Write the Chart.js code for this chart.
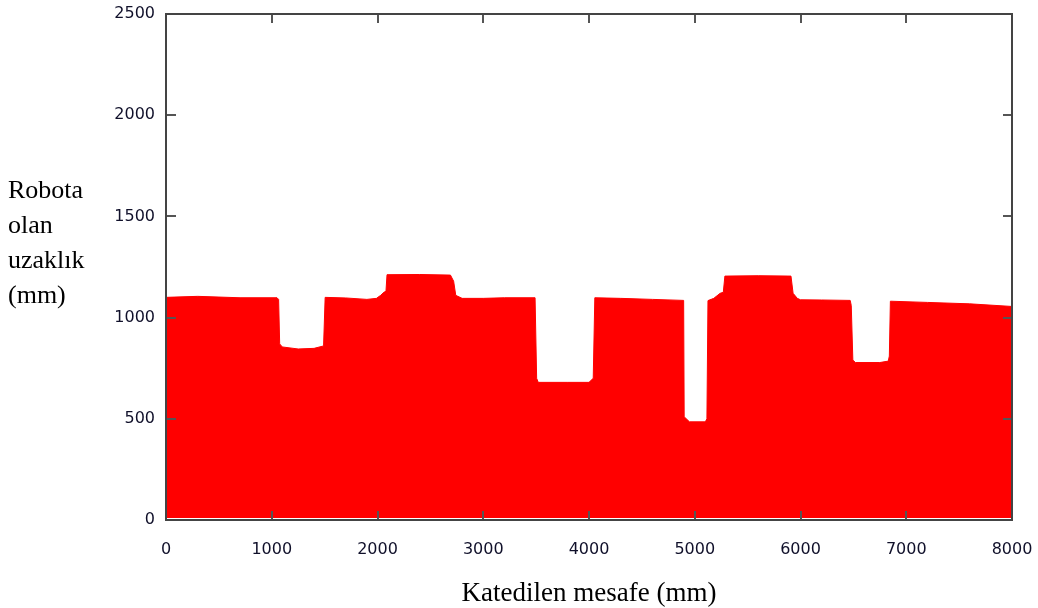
<!DOCTYPE html>
<html>
<head>
<meta charset="utf-8">
<script src="https://cdn.jsdelivr.net/npm/chart.js@4"></script>
<style>
	html, body { margin: 0; padding: 0; background: #ffffff; }
	#wrap { width: 1038px; height: 608px; position: relative; }
</style>
</head>
<body>
<div id="wrap"><canvas id="distance-chart"></canvas></div>
<script>
// VARIABLES ================================================

// travelled distance (mm) and distance to robot (mm)
const distX = [
	0, 300, 700, 1050, 1065, 1075, 1100, 1250, 1400, 1490, 1505, 1700, 1900, 1990, 2030, 2060, 2080, 2090, 2400, 2690,
	2720, 2740, 2800, 3000, 3200, 3490, 3505, 3520, 3800, 4000, 4040, 4055, 4300, 4600, 4895, 4900, 4950, 5100, 5115, 5125,
	5180, 5240, 5270, 5285, 5600, 5910, 5930, 5970, 6000, 6200, 6470, 6480, 6495, 6520, 6750, 6830, 6840, 6850, 7200, 7600, 8000,
];
const distY = [
	1100, 1105, 1098, 1098, 1090, 870, 855, 845, 848, 860, 1100, 1097, 1090, 1095, 1110, 1125, 1130, 1212, 1213, 1210,
	1180, 1110, 1095, 1095, 1098, 1098, 700, 680, 680, 680, 700, 1098, 1095, 1090, 1085, 510, 485, 485, 500, 1084,
	1095, 1120, 1125, 1205, 1207, 1205, 1120, 1095, 1088, 1087, 1085, 1060, 790, 778, 778, 785, 810, 1081, 1075, 1068, 1055,
];
const xTicks = { min: 0, max: 8000, step: 1000 };
const yTicks = { min: 0, max: 2500, step: 500 };
const xTitle = "Katedilen mesafe (mm)";
const yTitle = ["Robota", "olan", "uzaklık", "(mm)"];

let graph = {
	initialise: undefined,
	framePlugin: undefined,
	chart: undefined,
};

// FUNCTIONS ================================================

graph.framePlugin = {
	id: "frame",
	afterDraw: function (chart) {
		const ctx = chart.ctx;
		const area = chart.chartArea;
		const xs = chart.scales.x;
		const ys = chart.scales.y;
		ctx.save();
		// inward ticks on all four sides
		ctx.strokeStyle = "#555555";
		ctx.lineWidth = 2;
		ctx.beginPath();
		xs.ticks.forEach(function (t) {
			if (t.value <= xTicks.min || t.value >= xTicks.max) return;
			const px = Math.round(xs.getPixelForValue(t.value));
			ctx.moveTo(px, area.bottom);
			ctx.lineTo(px, area.bottom - 9);
			ctx.moveTo(px, area.top);
			ctx.lineTo(px, area.top + 9);
		});
		ys.ticks.forEach(function (t) {
			if (t.value <= yTicks.min || t.value >= yTicks.max) return;
			const py = Math.round(ys.getPixelForValue(t.value));
			ctx.moveTo(area.left, py);
			ctx.lineTo(area.left + 10, py);
			ctx.moveTo(area.right, py);
			ctx.lineTo(area.right - 9, py);
		});
		ctx.stroke();
		ctx.strokeStyle = "#444444";
		ctx.strokeRect(area.left, area.top, area.right - area.left, area.bottom - area.top);
		// axis titles
		ctx.fillStyle = "#000000";
		ctx.textBaseline = "alphabetic";
		ctx.font = '27px "Liberation Serif", "Times New Roman", serif';
		ctx.textAlign = "center";
		ctx.fillText(xTitle, (area.left + area.right) / 2, 601);
		ctx.font = '26px "Liberation Serif", "Times New Roman", serif';
		ctx.textAlign = "left";
		for (let i = 0; i < yTitle.length; i++) {
			ctx.fillText(yTitle[i], 8, 198 + i * 35);
		}
		ctx.restore();
	},
};

graph.initialise = function () {
	let points = [];
	for (let i = 0; i < distX.length; i++) {
		points.push({ x: distX[i], y: distY[i] });
	}
	const tickFont = { family: '"DejaVu Sans", Verdana, sans-serif', size: 16 };
	const plain = function (value) {
		return String(value);
	};
	const config = {
		type: "line",
		data: {
			datasets: [
				{
					data: points,
					borderColor: "#ff0000",
					borderWidth: 1,
					backgroundColor: "#ff0000",
					fill: { value: 10 },
					pointRadius: 0,
					tension: 0,
				},
			],
		},
		options: {
			responsive: true,
			maintainAspectRatio: false,
			animation: false,
			layout: { padding: { left: 0, right: 26, top: 14, bottom: 0 } },
			plugins: { legend: { display: false }, tooltip: { enabled: false } },
			scales: {
				x: {
					type: "linear",
					min: xTicks.min,
					max: xTicks.max,
					ticks: { stepSize: xTicks.step, font: tickFont, color: "#10102a", padding: 20, maxRotation: 0, callback: plain },
					grid: { display: false, drawTicks: false },
					border: { display: false },
					afterFit: function (scale) {
						scale.height = 88;
						scale.paddingLeft = 0;
						scale.paddingRight = 0;
					},
				},
				y: {
					min: yTicks.min,
					max: yTicks.max,
					ticks: { stepSize: yTicks.step, font: tickFont, color: "#10102a", padding: 11, callback: plain },
					grid: { display: false, drawTicks: false },
					border: { display: false },
					afterFit: function (scale) {
						scale.width = 166;
						scale.paddingTop = 0;
						scale.paddingBottom = 0;
					},
				},
			},
		},
		plugins: [graph.framePlugin],
	};
	graph.chart = new Chart(document.getElementById("distance-chart"), config);
	return;
};

graph.initialise();

// END ======================================================
</script>
</body>
</html>
